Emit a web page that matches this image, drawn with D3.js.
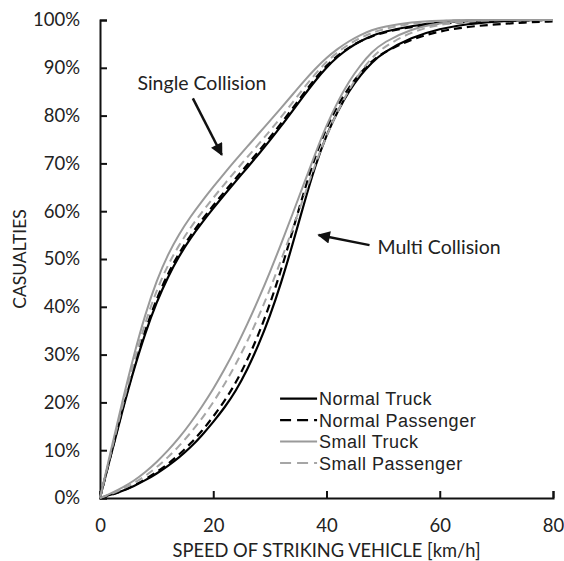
<!DOCTYPE html>
<html>
  <head>
    <meta charset="UTF-8" />
    <script src="https://cdn.jsdelivr.net/npm/d3@7"></script>
    <title>Casualties vs speed</title>
    <style type="text/css">
      body { margin: 0; background: #fff; }
      text { font-family: Lato, "Open Sans", sans-serif; fill: #222; }
      .legend text { font-family: "Liberation Sans", Arial, sans-serif; }
    </style>
  </head>
  <body>
    <div id="chartcontainer"></div>
    <script>
      // speed of striking vehicle [km/h]
      var speeds = [0, 2, 4, 6, 8, 10, 12, 14, 16, 18, 20, 22, 24, 26, 28, 30, 32, 34, 36, 38, 40, 42, 44, 46, 48, 50, 55, 60, 65, 70, 75, 80];

      // cumulative casualties (%) - single collision
      var singleNormalTruck = [0, 9.3, 18.5, 27, 34.6, 41, 46.3, 50.7, 54.4, 57.6, 60.6, 63.5, 66.3, 69.1, 71.9, 74.8, 77.8, 81, 84.2, 87.3, 90.1, 92.4, 94.2, 95.6, 96.7, 97.5, 98.8, 99.5, 99.8, 100, 100, 100];
      var singleNormalPassenger = [0, 9.4, 18.8, 27.5, 35.2, 41.7, 47, 51.3, 55, 58.2, 61.2, 64.1, 66.9, 69.7, 72.5, 75.4, 78.4, 81.5, 84.7, 87.8, 90.5, 92.6, 94.3, 95.6, 96.6, 97.4, 98.6, 99.3, 99.6, 99.8, 99.9, 100];
      var singleSmallTruck = [0, 10.3, 20.5, 30, 38.5, 45.5, 51, 55.3, 58.9, 62.1, 65.1, 68, 70.8, 73.5, 76.2, 78.9, 81.6, 84.4, 87.2, 89.8, 92.1, 94, 95.6, 96.9, 97.9, 98.6, 99.6, 99.9, 100, 100, 100, 100];
      var singleSmallPassenger = [0, 9.8, 19.5, 28.6, 36.8, 43.5, 48.8, 53, 56.6, 59.8, 62.8, 65.7, 68.5, 71.3, 74, 76.8, 79.7, 82.7, 85.8, 88.7, 91.3, 93.3, 95, 96.3, 97.3, 98.1, 99.3, 99.8, 100, 100, 100, 100];

      // cumulative casualties (%) - multi collision
      var multiNormalTruck = [0, 0.7, 1.5, 2.5, 3.7, 5.1, 6.7, 8.5, 10.6, 13.1, 15.9, 18.9, 22.4, 26.8, 32, 38, 45, 53, 61.5, 69.5, 76, 81, 85.2, 88.5, 91.1, 93.2, 96.4, 98.2, 99.2, 99.7, 100, 100];
      var multiNormalPassenger = [0, 0.6, 1.5, 2.6, 3.9, 5.4, 7.1, 9.1, 11.4, 14, 17, 20.3, 24.1, 28.8, 34.2, 40.5, 47.7, 55.8, 64, 71.5, 77.5, 82.2, 86, 89, 91.4, 93.2, 96, 97.7, 98.6, 99.1, 99.5, 99.7];
      var multiSmallTruck = [0, 1, 2.2, 3.6, 5.4, 7.5, 9.9, 12.6, 15.7, 19.1, 22.8, 26.9, 31.4, 36.3, 41.6, 47.2, 53.2, 59.4, 65.7, 72, 78, 83, 87.2, 90.6, 93.3, 95.3, 98.2, 99.4, 99.9, 100, 100, 100];
      var multiSmallPassenger = [0, 0.8, 1.9, 3.1, 4.6, 6.4, 8.5, 10.9, 13.6, 16.6, 20, 23.8, 28, 32.7, 37.9, 43.6, 49.8, 56.3, 63, 69.8, 75.8, 81, 85.5, 89.2, 92.1, 94.3, 97.6, 99.1, 99.7, 100, 100, 100];

      var xTicks = [0, 20, 40, 60, 80];
      var yTicks = [0, 10, 20, 30, 40, 50, 60, 70, 80, 90, 100];

      var legendNames = ["Normal Truck", "Normal Passenger", "Small Truck", "Small Passenger"];

      // styles for the four vehicle types
      var styles = [
        { color: "#000", width: 2.2, dash: null },
        { color: "#000", width: 2.2, dash: "8,5" },
        { color: "#9a9a9a", width: 2, dash: null },
        { color: "#a6a6a6", width: 2, dash: "8,5" },
      ];

      var series = [
        { values: singleNormalTruck, type: 0 },
        { values: singleNormalPassenger, type: 1 },
        { values: singleSmallPassenger, type: 3 },
        { values: singleSmallTruck, type: 2 },
        { values: multiNormalTruck, type: 0 },
        { values: multiNormalPassenger, type: 1 },
        { values: multiSmallPassenger, type: 3 },
        { values: multiSmallTruck, type: 2 },
      ];

      // annotations in data units
      var notes = [
        { label: "Single Collision", tx: 18, ty: 85.3, anchor: "middle", from: [16.4, 83.6], to: [21.5, 71.8] },
        { label: "Multi Collision", tx: 49, ty: 51, anchor: "start", from: [47.6, 52.9], to: [38.6, 55] },
      ];

      var margin = { top: 20, right: 11, bottom: 63, left: 100 },
        width = 564 - margin.left - margin.right,
        height = 561 - margin.top - margin.bottom;

      var svg = d3
        .select("#chartcontainer")
        .append("svg")
        .attr("width", width + margin.left + margin.right)
        .attr("height", height + margin.top + margin.bottom)
        .append("g")
        .attr("transform", "translate(" + margin.left + "," + margin.top + ")");

      var x = d3.scaleLinear().domain([0, 80]).range([0, width]);
      var y = d3.scaleLinear().domain([0, 100]).range([height, 0]);

      // X axis, ticks pointing up
      var xAxis = svg
        .append("g")
        .attr("transform", "translate(0," + height + ")")
        .call(d3.axisBottom(x).tickValues(xTicks).tickSize(-7).tickSizeOuter(-7).tickPadding(21));
      xAxis.selectAll("text").style("font-size", "18.5px").style("font-family", "Lato, sans-serif").attr("fill", "#222");

      // Y axis, ticks pointing right
      var yAxis = svg
        .append("g")
        .call(
          d3.axisLeft(y).tickValues(yTicks).tickSize(-7).tickSizeOuter(-7).tickPadding(20)
            .tickFormat(function (d) { return d + "%"; })
        );
      yAxis.selectAll("text").style("font-size", "18.5px").style("font-family", "Lato, sans-serif").attr("fill", "#222");

      svg.selectAll(".domain, .tick line").attr("stroke", "#111").attr("stroke-width", 2);

      // lines
      var line = d3
        .line()
        .x(function (d, i) { return x(speeds[i]); })
        .y(function (d) { return y(d); })
        .curve(d3.curveBasis);

      svg
        .selectAll(".curve")
        .data(series)
        .enter()
        .append("path")
        .attr("class", "curve")
        .attr("fill", "none")
        .attr("stroke", function (d) { return styles[d.type].color; })
        .attr("stroke-width", function (d) { return styles[d.type].width; })
        .attr("stroke-dasharray", function (d) { return styles[d.type].dash; })
        .attr("d", function (d) { return line(d.values); });

      // arrow marker
      svg
        .append("defs")
        .append("marker")
        .attr("id", "arrowhead")
        .attr("viewBox", "0 0 10 10")
        .attr("refX", 9)
        .attr("refY", 5)
        .attr("markerWidth", 6)
        .attr("markerHeight", 5)
        .attr("orient", "auto")
        .attr("markerUnits", "strokeWidth")
        .append("path")
        .attr("d", "M0,0 L10,5 L0,10 z")
        .attr("fill", "#111");

      notes.forEach(function (n) {
        svg
          .append("line")
          .attr("x1", x(n.from[0]))
          .attr("y1", y(n.from[1]))
          .attr("x2", x(n.to[0]))
          .attr("y2", y(n.to[1]))
          .attr("stroke", "#111")
          .attr("stroke-width", 2.5)
          .attr("marker-end", "url(#arrowhead)");
        svg
          .append("text")
          .attr("x", x(n.tx))
          .attr("y", y(n.ty))
          .attr("text-anchor", n.anchor)
          .style("font-size", "19.5px")
          .text(n.label);
      });

      // legend
      var legend = svg.append("g").attr("class", "legend").attr("transform", "translate(" + x(31.8) + "," + y(20.8) + ")");
      legendNames.forEach(function (name, i) {
        var row = legend.append("g").attr("transform", "translate(0," + i * 21.5 + ")");
        row
          .append("line")
          .attr("x1", 0)
          .attr("x2", 37)
          .attr("y1", 0)
          .attr("y2", 0)
          .attr("stroke", styles[i].color)
          .attr("stroke-width", styles[i].width)
          .attr("stroke-dasharray", styles[i].dash ? "11,6" : null);
        row
          .append("text")
          .attr("x", 39)
          .attr("y", 6.5)
          .style("font-size", "18px")
          .style("letter-spacing", "0.5px")
          .text(name);
      });

      // axis titles
      svg
        .append("text")
        .attr("x", width / 2)
        .attr("y", height + 59)
        .attr("text-anchor", "middle")
        .style("font-size", "18.3px")
        .text("SPEED OF STRIKING VEHICLE [km/h]");

      svg
        .append("text")
        .attr("transform", "rotate(-90)")
        .attr("x", -height / 2)
        .attr("y", -74)
        .attr("text-anchor", "middle")
        .style("font-size", "17.5px")
        .text("CASUALTIES");
    </script>
  </body>
</html>
